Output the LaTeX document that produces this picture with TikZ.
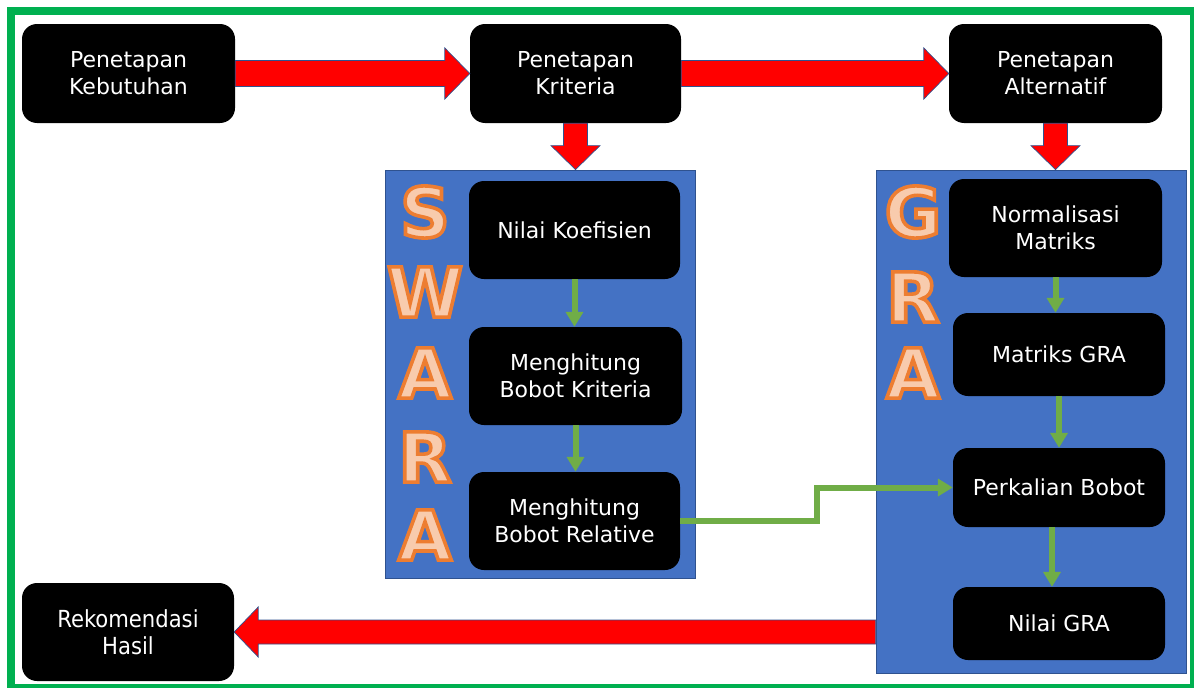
\documentclass[tikz,border=0pt]{standalone}
\usepackage{fontspec}
\setmainfont{DejaVu Sans}
\newfontfamily\condfont{DejaVu Sans Condensed}
\usetikzlibrary{arrows.meta,calc}
\definecolor{boxblue}{HTML}{4472C4}
\definecolor{edgeblue}{HTML}{2F528F}
\definecolor{arrgreen}{HTML}{70AD47}
\definecolor{frame}{HTML}{00B050}
\definecolor{peach}{HTML}{F8CBAD}
\newcommand{\outl}[1]{{\color{peach}\special{pdf:literal direct 2 Tr 3.6 w 0.929 0.490 0.192 RG}#1\special{pdf:literal direct 0 Tr}}}
\tikzset{
  blackbox/.style={fill=black, rounded corners=15pt, inner sep=0pt, text=white, align=center,
    font=\fontsize{22}{27}\selectfont},
  panel/.style={fill=boxblue, draw=edgeblue, line width=0.8pt, inner sep=0pt},
  bigletter/.style={inner sep=0pt, font=\fontsize{69}{70}\selectfont\bfseries},
  redarrow/.style={fill=red, draw=edgeblue, line width=0.7pt, line join=miter},
  garrow/.style={draw=arrgreen, line width=6pt, -{Triangle[width=17pt,length=15pt]}},
}
\begin{document}
\begin{tikzpicture}[x=1pt,y=-1pt]
\useasboundingbox (0,0) rectangle (1194,688);
\fill[white] (0,0) rectangle (1194,688);
\draw[frame, line width=8pt] (11,10.5) rectangle (1194,688);

% panels
\node[panel, minimum width=310pt, minimum height=408pt] (swara) at (540,374) {};
\node[panel, minimum width=310pt, minimum height=503pt] (gra) at (1031,421.5) {};

% letters
\node[bigletter] (s1) at (425,212) {\outl{S}};
\node[bigletter] (s2) at (425,292) {\outl{W}};
\node[bigletter] (s3) at (425,373) {\outl{A}};
\node[bigletter] (s4) at (425,457) {\outl{R}};
\node[bigletter] (s5) at (425,535) {\outl{A}};
\node[bigletter] (g1) at (913,212) {\outl{G}};
\node[bigletter] (g2) at (913,297) {\outl{R}};
\node[bigletter] (g3) at (913,373) {\outl{A}};

% top boxes
\node[blackbox, minimum width=213pt, minimum height=99pt] (keb) at (128.5,73.5) {Penetapan\\Kebutuhan};
\node[blackbox, minimum width=211pt, minimum height=99pt] (kri) at (575.5,73.5) {Penetapan\\Kriteria};
\node[blackbox, minimum width=213pt, minimum height=99pt] (alt) at (1055.5,73.5) {Penetapan\\Alternatif};

% SWARA boxes
\node[blackbox, minimum width=211pt, minimum height=98pt] (nk) at (574.5,230) {Nilai Koefisien};
\node[blackbox, minimum width=213pt, minimum height=98pt] (mbk) at (575.5,376) {Menghitung\\Bobot Kriteria};
\node[blackbox, minimum width=211pt, minimum height=98pt] (mbr) at (574.5,521) {Menghitung\\Bobot Relative};

% GRA boxes
\node[blackbox, minimum width=213pt, minimum height=98pt] (nm) at (1055.5,228) {Normalisasi\\Matriks};
\node[blackbox, minimum width=212pt, minimum height=83pt] (mg) at (1059,354.5) {Matriks GRA};
\node[blackbox, minimum width=212pt, minimum height=79pt] (pb) at (1059,487.5) {Perkalian Bobot};
\node[blackbox, minimum width=212pt, minimum height=73pt] (ng) at (1059,623.5) {Nilai GRA};

% result box
\node[blackbox, minimum width=212pt, minimum height=98pt, font=\condfont\fontsize{23.5}{27}\selectfont] (rek) at (128,632) {Rekomendasi\\Hasil};

% red horizontal arrows
\draw[redarrow] let \p1=(keb.east), \p2=(kri.west) in
  (\x1,\y1-13pt) -- (\x2-25pt,\y1-13pt) -- (\x2-25pt,\y1-25.5pt) -- (\x2,\y1) --
  (\x2-25pt,\y1+25.5pt) -- (\x2-25pt,\y1+13pt) -- (\x1,\y1+13pt) -- cycle;
\draw[redarrow] let \p1=(kri.east), \p2=(alt.west) in
  (\x1,\y1-13pt) -- (\x2-25pt,\y1-13pt) -- (\x2-25pt,\y1-25.5pt) -- (\x2,\y1) --
  (\x2-25pt,\y1+25.5pt) -- (\x2-25pt,\y1+13pt) -- (\x1,\y1+13pt) -- cycle;
% bottom arrow to the left
\draw[redarrow] let \p1=(gra.west |- rek.east), \p2=(rek.east) in
  (\x1,\y1-12pt) -- (\x2+24pt,\y1-12pt) -- (\x2+24pt,\y1-25pt) -- (\x2,\y1) --
  (\x2+24pt,\y1+25pt) -- (\x2+24pt,\y1+12pt) -- (\x1,\y1+12pt) -- cycle;
% red down arrows
\draw[redarrow] let \p1=(kri.south), \p2=(kri.south |- swara.north) in
  (\x1-12pt,\y1) -- (\x1-12pt,\y2+24pt) -- (\x1-24.5pt,\y2+24pt) -- (\x1,\y2) --
  (\x1+24.5pt,\y2+24pt) -- (\x1+12pt,\y2+24pt) -- (\x1+12pt,\y1) -- cycle;
\draw[redarrow] let \p1=(alt.south), \p2=(alt.south |- gra.north) in
  (\x1-12pt,\y1) -- (\x1-12pt,\y2+24pt) -- (\x1-24.5pt,\y2+24pt) -- (\x1,\y2) --
  (\x1+24.5pt,\y2+24pt) -- (\x1+12pt,\y2+24pt) -- (\x1+12pt,\y1) -- cycle;

% green arrows
\draw[garrow] (nk.south) -- (nk.south |- mbk.north);
\draw[garrow] (mbk.south) -- (mbk.south |- mbr.north);
\draw[garrow] (nm.south) -- (nm.south |- mg.north);
\draw[garrow] (mg.south) -- (mg.south |- pb.north);
\draw[garrow] ([xshift=-7pt]pb.south) -- ([xshift=-7pt]pb.south |- ng.north);
\coordinate (elb) at (817,500);
\draw[garrow] (mbr.east) -- (mbr.east -| elb) -- (elb |- pb.west) -- (pb.west);
\end{tikzpicture}
\end{document}
